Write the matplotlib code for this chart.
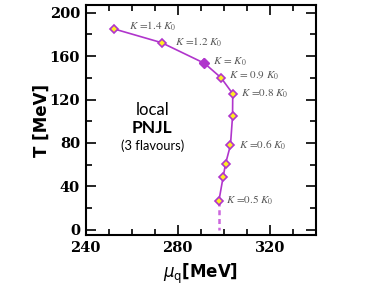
import matplotlib.pyplot as plt
from matplotlib.ticker import MultipleLocator

# phase boundary points (critical end point for each K)
mu_q = [252.5, 273.0, 291.6, 298.8, 303.9, 303.8, 302.9, 300.8, 299.7, 297.9]
temp = [185.0, 172.4, 153.4, 140.1, 125.3, 104.4, 77.9, 61.0, 48.3, 26.8]
k_labels = [r"$K$ =1.4 $K_0$", r"$K$ =1.2 $K_0$", r"$K$ = $K_0$", r"$K$ = 0.9 $K_0$",
            r"$K$ =0.8 $K_0$", None, r"$K$ =0.6 $K_0$", None, None, r"$K$ =0.5 $K_0$"]
label_dx = [10.5, 10, 6.5, 6, 6, 0, 6, 0, 0, 5.3]
label_dy = [1.7, 0, 1.2, 1.2, 0, 0, 0, 0, 0, 0]

# dashed extension down to T=0
dash_mu = [297.9, 297.9]
dash_t = [26.8, 0.0]

purple = "#b035cc"

fig = plt.figure(figsize=(3.82, 2.86), dpi=100)
ax = fig.add_axes([0.224, 0.178, 0.603, 0.804])

ax.plot(dash_mu, dash_t, color="#cc66dd", lw=1.8, ls=(0, (2, 1.5)))
ax.plot(mu_q, temp, color=purple, lw=1.2, marker="D", ms=4.5,
        mfc="#ffee22", mec=purple, mew=1.2, zorder=3)
ax.plot(mu_q[2], temp[2], marker="D", ms=5, color=purple, zorder=4)

for x, y, lab, dx, dy in zip(mu_q, temp, k_labels, label_dx, label_dy):
    if lab is None:
        continue
    ax.annotate(lab, (x, y), xytext=(dx, dy), textcoords="offset points",
                ha="left", va="center", fontsize=8, color="#555555",
                family="STIXGeneral", math_fontfamily="stix")

ax.text(0.29, 0.543, "local", transform=ax.transAxes, ha="center", va="center",
        fontsize=12, family="Lato")
ax.text(0.29, 0.465, "PNJL", transform=ax.transAxes, ha="center", va="center",
        fontsize=12.5, family="Lato", fontweight="bold")
ax.text(0.29, 0.388, "(3 flavours)", transform=ax.transAxes, ha="center", va="center",
        fontsize=9.3, family="Lato")

ax.set_xlim(240, 340)
ax.set_ylim(-5, 207)
ax.xaxis.set_major_locator(MultipleLocator(40))
ax.xaxis.set_minor_locator(MultipleLocator(10))
ax.yaxis.set_major_locator(MultipleLocator(40))
ax.yaxis.set_minor_locator(MultipleLocator(20))
ax.tick_params(which="both", direction="in", top=True, right=True, width=1.2)
ax.tick_params(which="major", length=7, labelsize=10.5, pad=4)
ax.tick_params(which="minor", length=4)
for lbl in ax.get_xticklabels() + ax.get_yticklabels():
    lbl.set_family("DejaVu Serif")
    lbl.set_fontweight("bold")
for sp in ax.spines.values():
    sp.set_linewidth(1.5)

ax.set_ylabel("T [MeV]", fontsize=12, fontweight="bold", family="DejaVu Sans", labelpad=-1)
ax.set_xlabel(r"$\mu_\mathrm{q}$" + r"$\mathbf{[MeV]}$", fontsize=12, labelpad=5,
              math_fontfamily="dejavusans")

fig.savefig("out.png", dpi=100)
